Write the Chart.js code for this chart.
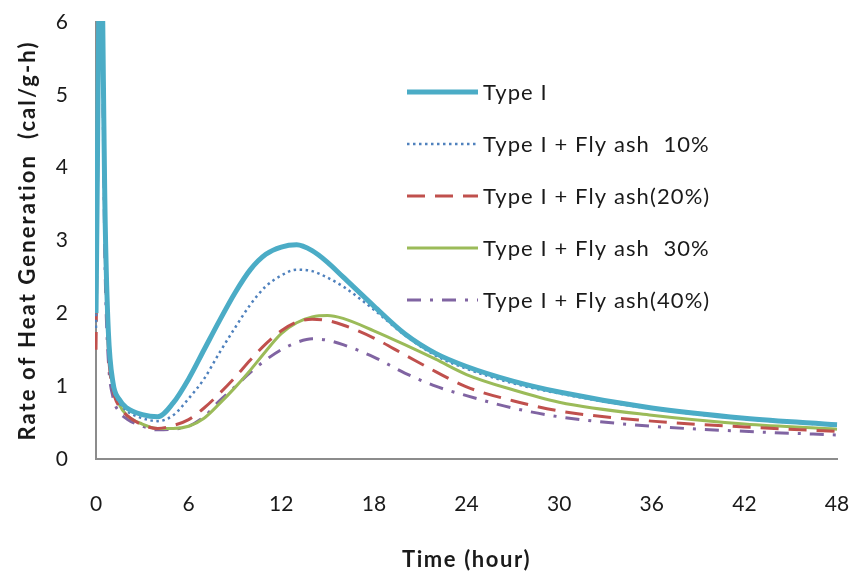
<!DOCTYPE html>
<html>
<head>
<meta charset="utf-8">
<script src="https://cdn.jsdelivr.net/npm/chart.js@4.4.1/dist/chart.umd.min.js"></script>
<style>
  html, body { margin: 0; padding: 0; background: #fff; }
  #wrap { width: 854px; height: 580px; position: relative; }
</style>
</head>
<body>
<div id="wrap"><canvas id="heat" width="854" height="580"></canvas></div>
<script>
(function () {
    "use strict";

    // hours
    const hours = [0, 0.3, 0.6, 0.8, 1.1, 1.5, 2, 3, 4, 5, 6, 7, 8, 9, 10, 11, 12, 13, 14, 15, 16, 18, 20, 22, 24, 27, 30, 36, 42, 48];

    const typeI = [2.0, 7.5, 3.2, 1.75, 1.05, 0.82, 0.70, 0.61, 0.58, 0.77, 1.10, 1.50, 1.90, 2.28, 2.60, 2.81, 2.91, 2.94, 2.86, 2.70, 2.50, 2.10, 1.72, 1.45, 1.27, 1.07, 0.92, 0.70, 0.56, 0.47];
    const fly10 = [1.8, 7.2, 3.0, 1.65, 1.00, 0.78, 0.66, 0.56, 0.52, 0.60, 0.83, 1.10, 1.46, 1.80, 2.12, 2.37, 2.52, 2.60, 2.58, 2.49, 2.37, 2.05, 1.70, 1.42, 1.24, 1.04, 0.90, 0.69, 0.55, 0.46];
    const fly20 = [1.5, 7.0, 2.8, 1.50, 0.95, 0.72, 0.60, 0.47, 0.42, 0.46, 0.54, 0.70, 0.90, 1.12, 1.36, 1.58, 1.76, 1.88, 1.92, 1.90, 1.84, 1.66, 1.43, 1.20, 0.99, 0.80, 0.66, 0.52, 0.44, 0.38];
    const fly30 = [2.0, 7.2, 3.2, 1.70, 1.00, 0.75, 0.60, 0.48, 0.42, 0.42, 0.45, 0.56, 0.76, 0.98, 1.22, 1.48, 1.72, 1.87, 1.95, 1.97, 1.93, 1.76, 1.57, 1.37, 1.16, 0.95, 0.78, 0.60, 0.48, 0.41];
    const fly40 = [2.0, 6.8, 2.5, 1.35, 0.85, 0.65, 0.55, 0.45, 0.40, 0.41, 0.45, 0.58, 0.80, 0.99, 1.19, 1.36, 1.50, 1.60, 1.65, 1.63, 1.57, 1.40, 1.18, 1.00, 0.87, 0.70, 0.58, 0.45, 0.38, 0.33];

    const seriesNames = ["Type I", "Type I + Fly ash  10%", "Type I + Fly ash(20%)", "Type I + Fly ash  30%", "Type I + Fly ash(40%)"];
    const xTicks = [0, 6, 12, 18, 24, 30, 36, 42, 48];
    const xTitle = "Time (hour)";
    const yTitle = "Rate of Heat Generation  (cal/g-h)";

    const FONT = "Lato, 'Noto Sans', sans-serif";
    const INK = "#1a1a1a";

    const toPoints = vals => vals.map((v, i) => ({ x: hours[i], y: v }));

    function line(label, vals, color, width, dash) {
        return {
            label: label,
            data: toPoints(vals),
            borderColor: color,
            backgroundColor: color,
            borderWidth: width,
            borderDash: dash,
            borderCapStyle: "butt",
            pointRadius: 0,
            fill: false,
            cubicInterpolationMode: "monotone",
            clip: 1,
        };
    }

    // legend inside the plot + axis titles, drawn by hand (dashes, letter spacing)
    const decorations = {
        id: "decorations",
        afterDraw(chart) {
            const ctx = chart.ctx;
            const area = chart.chartArea;
            const x0 = 407, len = 71, top = 92, gap = 52;

            chart.data.datasets.forEach((ds, i) => {
                const y = top + i * gap;
                ctx.save();
                ctx.strokeStyle = ds.borderColor;
                ctx.lineWidth = ds.borderWidth;
                ctx.setLineDash(ds.borderDash || []);
                ctx.lineCap = "butt";
                ctx.beginPath();
                ctx.moveTo(x0, y);
                ctx.lineTo(x0 + len, y);
                ctx.stroke();
                ctx.setLineDash([]);
                ctx.fillStyle = INK;
                ctx.font = "22px " + FONT;
                ctx.letterSpacing = "1.1px";
                ctx.textBaseline = "middle";
                ctx.fillText(ds.label, x0 + len + 5, y + 1);
                ctx.restore();
            });

            ctx.save();
            ctx.fillStyle = INK;
            ctx.font = "bold 22px " + FONT;
            ctx.textAlign = "center";
            ctx.textBaseline = "middle";
            ctx.letterSpacing = "1.6px";
            ctx.fillText(xTitle, (area.left + area.right) / 2, 560);
            ctx.translate(28, (area.top + area.bottom) / 2);
            ctx.rotate(-Math.PI / 2);
            ctx.letterSpacing = "2.1px";
            ctx.fillText(yTitle, 0, 0);
            ctx.restore();
        },
    };

    new Chart(document.getElementById("heat").getContext("2d"), {
        type: "line",
        data: {
            datasets: [
                line(seriesNames[0], typeI, "#4BACC6", 5, []),
                line(seriesNames[1], fly10, "#4F81BD", 2.5, [2.5, 3.5]),
                line(seriesNames[2], fly20, "#C0504D", 3, [18, 10]),
                line(seriesNames[3], fly30, "#9BBB59", 3, []),
                line(seriesNames[4], fly40, "#8064A2", 3, [14, 9, 3, 9]),
            ],
        },
        options: {
            responsive: false,
            animation: false,
            devicePixelRatio: 1,
            layout: { padding: { top: 22, right: 17, left: 0, bottom: 0 } },
            plugins: { legend: { display: false }, tooltip: { enabled: false } },
            scales: {
                x: {
                    type: "linear",
                    min: 0,
                    max: 48,
                    afterBuildTicks: s => { s.ticks = xTicks.map(v => ({ value: v })); },
                    afterFit: s => { s.height = 121; s.paddingLeft = 0; s.paddingRight = 0; },
                    grid: { display: false, drawTicks: false },
                    border: { display: true, color: "#8c8c8c", width: 2 },
                    ticks: { padding: 33, color: INK, font: { size: 21, family: FONT } },
                },
                y: {
                    min: 0,
                    max: 6,
                    afterFit: s => { s.width = 96; s.paddingTop = 0; s.paddingBottom = 0; },
                    grid: { display: false, drawTicks: false },
                    border: { display: true, color: "#8c8c8c", width: 2 },
                    ticks: { stepSize: 1, padding: 28, color: INK, font: { size: 21, family: FONT } },
                },
            },
        },
        plugins: [decorations],
    });
})();
</script>
</body>
</html>
